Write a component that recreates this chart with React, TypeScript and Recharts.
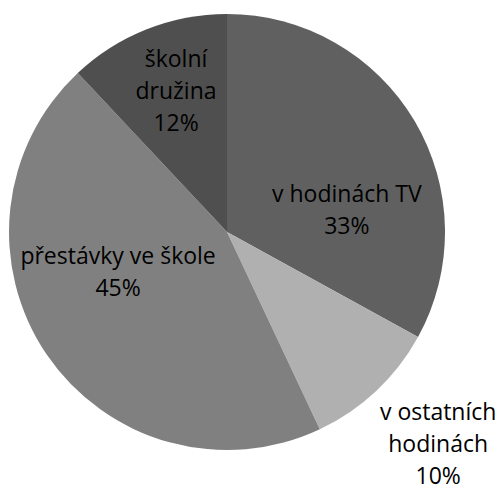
import React from "react";
import { PieChart, Pie, Cell } from "recharts";

const categories = ["v hodinách TV", "v ostatních hodinách", "přestávky ve škole", "školní družina"];
const values = [33, 10, 45, 12];
const labelLines = [
  ["v hodinách TV", "33%"],
  ["v ostatních", "hodinách", "10%"],
  ["přestávky ve škole", "45%"],
  ["školní", "družina", "12%"],
];
const colors = ["#606060", "#b0b0b0", "#808080", "#4f4f4f"];

// label placement: [radius factor, angle in degrees (counter-clockwise from +x)]
const LABEL_LAYOUT: [number, number][] = [
  [0.56, 11],
  [1.37, -45],
  [0.53, -160.5],
  [0.69, 109.8],
];

const data = categories.map((name, i) => ({ name, value: values[i] }));

const FONT = "'Open Sans', sans-serif";
const LINE_H = 32;

const renderLabel = (props: any) => {
  const { cx, cy, outerRadius, index } = props;
  const [rf, ang] = LABEL_LAYOUT[index];
  const rad = (ang * Math.PI) / 180;
  const x = cx + outerRadius * rf * Math.cos(rad);
  const y = cy - outerRadius * rf * Math.sin(rad);
  const lines = labelLines[index];
  const start = y - ((lines.length - 1) * LINE_H) / 2;
  return (
    <text
      key={`lbl-${index}`}
      x={x}
      y={start}
      textAnchor="middle"
      dominantBaseline="central"
      fill="#000000"
      fontFamily={FONT}
      fontSize={23}
    >
      {lines.map((l, i) => (
        <tspan key={i} x={x} y={start + i * LINE_H} dominantBaseline="central">
          {l}
        </tspan>
      ))}
    </text>
  );
};

export default function App() {
  return (
    <div style={{ position: "absolute", left: 0, top: 0, width: 499, height: 489, background: "#ffffff" }}>
      <PieChart width={499} height={489} margin={{ top: 0, right: 0, bottom: 0, left: 0 }}>
        <Pie
          data={data}
          dataKey="value"
          nameKey="name"
          cx={227}
          cy={232}
          outerRadius={218}
          startAngle={90}
          endAngle={-270}
          stroke="none"
          label={renderLabel}
          labelLine={false}
          isAnimationActive={false}
        >
          {data.map((d, i) => (
            <Cell key={d.name} fill={colors[i]} />
          ))}
        </Pie>
      </PieChart>
    </div>
  );
}
